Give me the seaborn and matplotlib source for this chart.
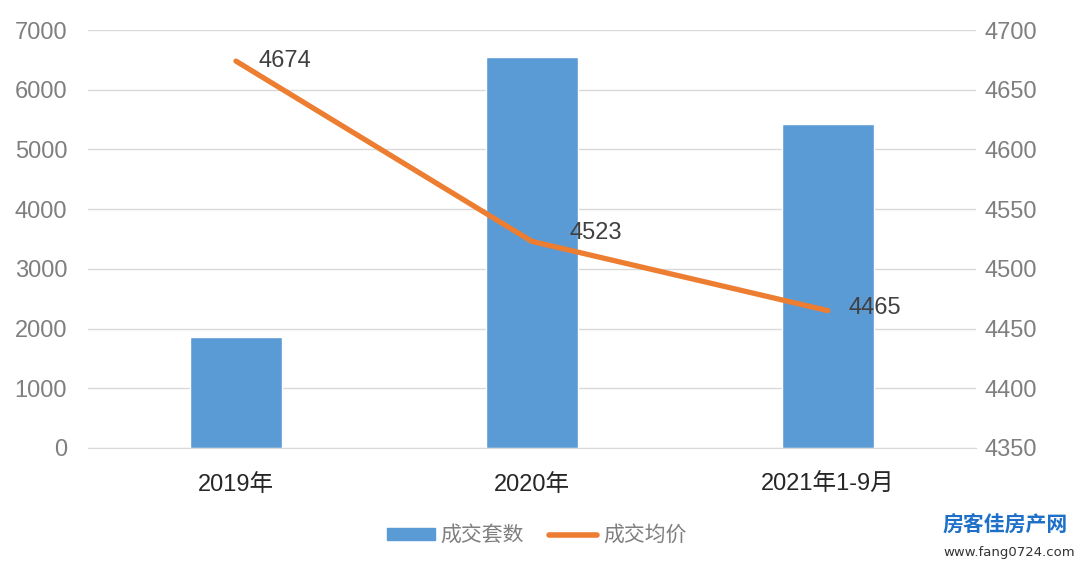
import matplotlib
matplotlib.use('Agg')
import matplotlib.pyplot as plt
import seaborn as sns
import pandas as pd
from matplotlib.patches import Patch
from matplotlib.lines import Line2D

years = ['2019年', '2020年', '2021年1-9月']
deals = [1850, 6550, 5425]
avg_price = [4674, 4523, 4465]
label_offsets = [(16, 0), (27, 6), (15, 2)]

bar_color = '#5B9BD5'
line_color = '#ED7D31'

sns.set_style('white')
plt.rcParams['font.family'] = ['Liberation Sans', 'Noto Sans CJK SC', 'DejaVu Sans']

df = pd.DataFrame({'year': years, 'deals': deals, 'price': avg_price})

fig = plt.figure(figsize=(10.8, 5.67), dpi=100)
ax = fig.add_axes([0.0815, 0.21, 0.822, 0.737])

sns.barplot(data=df, x='year', y='deals', color=bar_color, width=0.31,
            saturation=1, ax=ax, zorder=2)
ax.set_ylim(0, 7000)
ax.set_yticks(range(0, 7001, 1000))
ax.set_xlim(-0.5, 2.5)
ax.yaxis.grid(True, color='#D9D9D9', linewidth=1, zorder=0)
ax.set_axisbelow(True)
ax.set_xlabel('')
ax.set_ylabel('')
for s in ax.spines.values():
    s.set_visible(False)
ax.spines['bottom'].set_visible(True)
ax.spines['bottom'].set_color('#D9D9D9')
ax.tick_params(axis='y', colors='#7F7F7F', labelsize=17, length=0, pad=15)
ax.tick_params(axis='x', colors='#262626', labelsize=17, length=0, pad=19)

ax2 = ax.twinx()
sns.lineplot(x=list(range(len(years))), y=avg_price, color=line_color,
             linewidth=3.8, ax=ax2, solid_capstyle='round')
ax2.set_ylim(4350, 4700)
ax2.set_yticks(range(4350, 4701, 50))
for s in ax2.spines.values():
    s.set_visible(False)
ax2.tick_params(axis='y', colors='#7F7F7F', labelsize=17, length=0, pad=6)
ax2.grid(False)

for i, v in enumerate(avg_price):
    ax2.annotate(str(v), (i, v), xytext=label_offsets[i], textcoords='offset points',
                 ha='left', va='center', fontsize=17, color='#404040')

handles = [Patch(color=bar_color, label='成交套数'),
           Line2D([0], [0], color=line_color, linewidth=4, solid_capstyle='round', label='成交均价')]
fig.legend(handles=handles, loc='center', bbox_to_anchor=(0.497, 0.056), ncol=2,
           frameon=False, fontsize=15, labelcolor='#7F7F7F', handlelength=2.3,
           handleheight=0.5, handletextpad=0.3, columnspacing=1.2)

fig.text(0.873, 0.063, '房客佳房产网', fontsize=15, fontweight='bold', color='#1E6FC8',
         family=['Noto Sans CJK SC'])
fig.text(0.874, 0.02, 'www.fang0724.com', fontsize=9.5, color='#333333',
         family=['DejaVu Sans'])

fig.savefig('out.png', dpi=100)
